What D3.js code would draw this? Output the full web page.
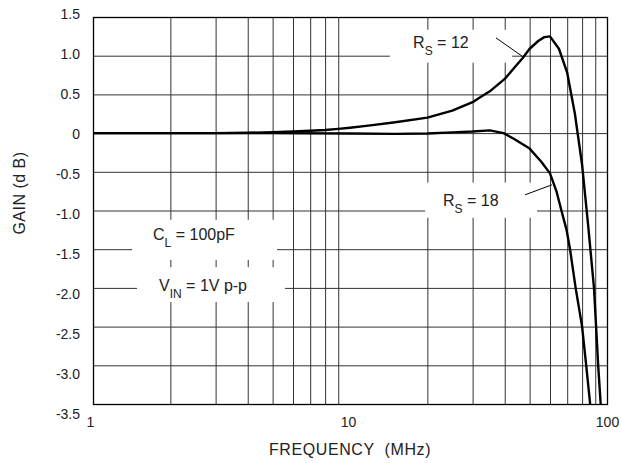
<!DOCTYPE html>
<html>
  <head>
    <meta charset="utf-8" />
    <title>Gain vs Frequency</title>
    <style>
      html, body {
        margin: 0;
        padding: 0;
        background-color: white;
      }
      svg {
        display: block;
        font-family: "Liberation Sans", Arial, sans-serif;
      }
      .grid line {
        stroke: #333;
        stroke-width: 1px;
      }
      .grid path {
        display: none;
      }
      .tickLabels text {
        font-size: 14px;
        fill: #222;
      }
      .tickLabels path {
        display: none;
      }
      .note {
        font-size: 16px;
        fill: #222;
      }
      .curve {
        fill: none;
        stroke: black;
        stroke-width: 2.4px;
        stroke-linejoin: round;
      }
    </style>
  </head>

  <body>
    <script src="https://d3js.org/d3.v7.min.js"></script>
    <script>
      var w = 621;
      var h = 463;

      // frequency (MHz) and gain (dB)
      var rs12Freq = [1, 2, 3, 4, 5, 6, 7, 8, 9, 10, 12, 15, 20, 25, 30, 32, 35, 40, 44, 47, 50, 54, 57, 60, 65, 70, 75, 80, 84.5, 89, 92.4, 94.5];
      var rs12Gain = [0, 0, 0, 0.005, 0.012, 0.02, 0.03, 0.04, 0.055, 0.07, 0.1, 0.14, 0.2, 0.29, 0.4, 0.46, 0.54, 0.7, 0.86, 0.97, 1.09, 1.19, 1.24, 1.25, 1.09, 0.78, 0.25, -0.41, -1.2, -2.0, -3.0, -3.5];

      var rs18Freq = [1, 5, 10, 15, 20, 25, 30, 35, 39.6, 43.2, 50, 55.5, 60, 63.7, 66.7, 69.6, 71.8, 75.5, 80, 83, 86];
      var rs18Gain = [0, 0, -0.005, -0.01, -0.005, 0.01, 0.02, 0.035, 0, -0.07, -0.2, -0.37, -0.52, -0.76, -1.02, -1.25, -1.5, -2.0, -2.5, -3.0, -3.5];

      var gainTicks = [1.5, 1.0, 0.5, 0, -0.5, -1.0, -1.5, -2.0, -2.5, -3.0, -3.5];
      var gainTickText = ["1.5", "1.0", "0.5", "0", "-0.5", "-1.0", "-1.5", "-2.0", "-2.5", "-3.0", "-3.5"];
      var freqTicks = [1, 10, 100];
      var freqGrid = [2, 3, 4, 5, 6, 7, 8, 9, 20, 30, 40, 50, 60, 70, 80, 90];

      var plotLeft = 93, plotRight = 607, plotTop = 17, plotBottom = 404;

      var svg = d3.select("body")
        .append("svg")
        .attr("width", w)
        .attr("height", h);

      var x = d3.scaleLog()
        .domain([1, 100])
        .range([plotLeft, plotRight]);

      var y = d3.scaleLinear()
        .domain([1.5, -3.5])
        .range([plotTop, plotBottom]);

      // the printed gain labels sit on a slightly longer ruler than the grid
      var yLabel = d3.scaleLinear()
        .domain([1.5, -3.5])
        .range([14, 414]);

      // grid
      svg.append("g")
        .attr("class", "grid")
        .attr("transform", "translate(0," + plotBottom + ")")
        .call(d3.axisBottom(x).tickValues(freqGrid).tickSize(-(plotBottom - plotTop)).tickFormat(""));

      svg.append("g")
        .attr("class", "grid")
        .attr("transform", "translate(" + plotLeft + ",0)")
        .call(d3.axisLeft(y).tickValues(gainTicks.slice(1, -1)).tickSize(-(plotRight - plotLeft)).tickFormat(""));

      // white boxes behind the notes, in chart units
      var boxes = [
        { f0: 14.3, f1: 42.7, g0: 1.335, g1: 0.91 },
        { f0: 19.6, f1: 53.4, g0: -0.64, g1: -1.094 },
        { f0: 1.418, f1: 5.2, g0: -1.12, g1: -1.64 },
        { f0: 1.483, f1: 5.58, g0: -1.732, g1: -2.183 }
      ];

      svg.selectAll(".box")
        .data(boxes)
        .enter()
        .append("rect")
        .attr("class", "box")
        .attr("x", function (d) { return x(d.f0); })
        .attr("y", function (d) { return y(d.g0); })
        .attr("width", function (d) { return x(d.f1) - x(d.f0); })
        .attr("height", function (d) { return y(d.g1) - y(d.g0); })
        .attr("fill", "white");

      // frame
      svg.append("rect")
        .attr("x", plotLeft + 0.5)
        .attr("y", plotTop + 0.5)
        .attr("width", plotRight - plotLeft)
        .attr("height", plotBottom - plotTop)
        .attr("fill", "none")
        .attr("stroke", "black")
        .attr("stroke-width", 1.3);

      // tick labels
      svg.append("g")
        .attr("class", "tickLabels")
        .attr("transform", "translate(80,0)")
        .call(d3.axisLeft(yLabel).tickValues(gainTicks).tickSize(0).tickPadding(0)
          .tickFormat(function (d, i) { return gainTickText[i]; }));

      svg.append("g")
        .attr("class", "tickLabels")
        .attr("transform", "translate(0," + plotBottom + ")")
        .call(d3.axisBottom(x).tickValues(freqTicks).tickSize(0).tickPadding(13)
          .tickFormat(d3.format("d")))
        .selectAll("text")
        .attr("dx", function (d) { return d === 1 ? -3 : (d === 10 ? -2 : 0); });

      // axis titles
      svg.append("text")
        .attr("x", 350)
        .attr("y", 455)
        .attr("text-anchor", "middle")
        .attr("font-size", 16)
        .attr("letter-spacing", 0.6)
        .attr("fill", "#222")
        .style("white-space", "pre")
        .text("FREQUENCY  (MHz)");

      svg.append("text")
        .attr("transform", "translate(25,193) rotate(-90)")
        .attr("text-anchor", "middle")
        .attr("font-size", 16)
        .attr("letter-spacing", 0.5)
        .attr("fill", "#222")
        .text("GAIN (d B)");

      // curves
      svg.append("clipPath")
        .attr("id", "plotClip")
        .append("rect")
        .attr("x", plotLeft)
        .attr("y", plotTop)
        .attr("width", plotRight - plotLeft)
        .attr("height", plotBottom - plotTop);

      var line = d3.line()
        .x(function (d) { return x(d[0]); })
        .y(function (d) { return y(d[1]); });

      var series = [
        d3.zip(rs12Freq, rs12Gain),
        d3.zip(rs18Freq, rs18Gain)
      ];

      svg.selectAll(".curve")
        .data(series)
        .enter()
        .append("path")
        .attr("class", "curve")
        .attr("clip-path", "url(#plotClip)")
        .attr("d", line);

      // notes
      var notes = [
        { f: 17.6, g: 1.1, main: "R", sub: "S", rest: " = 12" },
        { f: 23, g: -0.94, main: "R", sub: "S", rest: " = 18" },
        { f: 1.712, g: -1.38, main: "C", sub: "L", rest: " = 100pF" },
        { f: 1.806, g: -2.04, main: "V", sub: "IN", rest: " = 1V p-p" }
      ];

      var noteText = svg.selectAll(".note")
        .data(notes)
        .enter()
        .append("text")
        .attr("class", "note")
        .attr("x", function (d) { return x(d.f); })
        .attr("y", function (d) { return y(d.g); })
        .style("white-space", "pre");

      noteText.append("tspan").text(function (d) { return d.main; });
      noteText.append("tspan")
        .attr("dy", 7)
        .attr("font-size", 12)
        .text(function (d) { return d.sub; });
      noteText.append("tspan")
        .attr("dy", -7)
        .text(function (d) { return d.rest; });

      var leaders = [
        [[37, 1.23], [47.1, 0.986]],
        [[48, -0.797], [61.1, -0.668]]
      ];

      svg.selectAll(".leader")
        .data(leaders)
        .enter()
        .append("line")
        .attr("class", "leader")
        .attr("x1", function (d) { return x(d[0][0]); })
        .attr("y1", function (d) { return y(d[0][1]); })
        .attr("x2", function (d) { return x(d[1][0]); })
        .attr("y2", function (d) { return y(d[1][1]); })
        .attr("stroke", "black")
        .attr("stroke-width", 1);
    </script>
  </body>
</html>
